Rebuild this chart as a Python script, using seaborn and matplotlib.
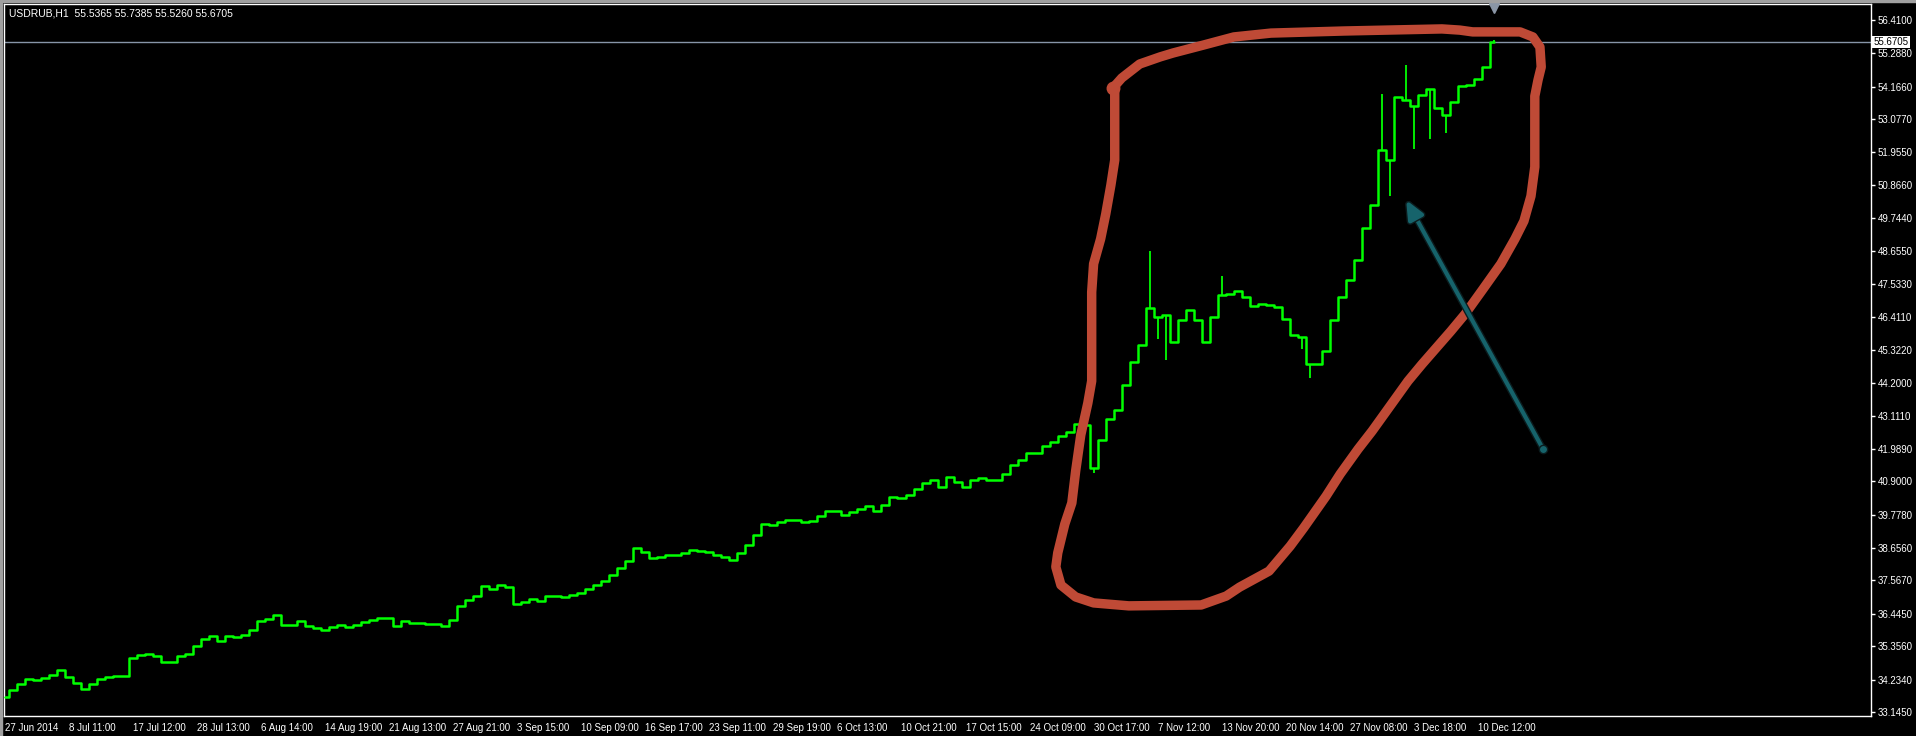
import numpy as np
import pandas as pd
import matplotlib
matplotlib.use("Agg")
import matplotlib.pyplot as plt
import matplotlib.patheffects as pe
import seaborn as sns

# USDRUB H1 closes, every 1/8 of a date-label step
close = [
    33.65, 33.88, 34.08, 34.25, 34.22, 34.28, 34.39, 34.55, 34.32, 34.12,
    33.91, 34.08, 34.25, 34.32, 34.35, 34.35, 34.96, 35.06, 35.09, 35.02,
    34.82, 34.82, 35.02, 35.09, 35.36, 35.60, 35.70, 35.53, 35.70, 35.66,
    35.73, 35.90, 36.20, 36.27, 36.40, 36.07, 36.07, 36.20, 36.03, 35.97,
    35.90, 36.00, 36.07, 36.00, 36.07, 36.17, 36.23, 36.30, 36.30, 36.03,
    36.20, 36.13, 36.13, 36.10, 36.10, 36.03, 36.23, 36.71, 36.91, 37.04,
    37.38, 37.28, 37.41, 37.34, 36.77, 36.84, 36.94, 36.87, 37.04, 37.04,
    37.01, 37.08, 37.14, 37.28, 37.41, 37.55, 37.75, 37.98, 38.22, 38.66,
    38.52, 38.32, 38.35, 38.42, 38.42, 38.49, 38.59, 38.56, 38.52, 38.42,
    38.35, 38.25, 38.49, 38.76, 39.09, 39.46, 39.43, 39.53, 39.60, 39.60,
    39.53, 39.56, 39.73, 39.90, 39.90, 39.77, 39.87, 39.97, 40.07, 39.90,
    40.10, 40.37, 40.34, 40.44, 40.64, 40.84, 40.94, 40.71, 41.04, 40.88,
    40.71, 40.94, 41.01, 40.94, 40.94, 41.14, 41.45, 41.61, 41.85, 41.85,
    42.09, 42.22, 42.42, 42.56, 42.83, 42.80, 41.35, 42.29, 42.99, 43.30,
    44.14, 44.91, 45.48, 46.73, 46.42, 46.49, 45.58, 46.32, 46.66, 46.32,
    45.58, 46.42, 47.16, 47.20, 47.30, 47.10, 46.79, 46.86, 46.83, 46.76,
    46.36, 45.82, 45.75, 44.84, 44.84, 45.28, 46.32, 47.10, 47.67, 48.34,
    49.42, 50.19, 52.04, 51.70, 53.82, 53.72, 53.52, 53.89, 54.09, 53.45,
    53.22, 53.65, 54.19, 54.22, 54.43, 54.83, 55.67,
]
samples_per_step = 8

# hourly highs / lows that stick out of the close line
spike_idx = [135, 136, 143, 144, 145, 152, 162, 163, 172, 173, 175, 176, 178, 180, 186]
spike_px = [43.56, 41.18, 48.64, 45.68, 44.98, 47.80, 45.35, 44.37, 53.92, 50.49,
            54.90, 52.07, 52.41, 52.61, 55.74]

date_labels = [
    "27 Jun 2014", "8 Jul 11:00", "17 Jul 12:00", "28 Jul 13:00", "6 Aug 14:00",
    "14 Aug 19:00", "21 Aug 13:00", "27 Aug 21:00", "3 Sep 15:00", "10 Sep 09:00",
    "16 Sep 17:00", "23 Sep 11:00", "29 Sep 19:00", "6 Oct 13:00", "10 Oct 21:00",
    "17 Oct 15:00", "24 Oct 09:00", "30 Oct 17:00", "7 Nov 12:00", "13 Nov 20:00",
    "20 Nov 14:00", "27 Nov 08:00", "3 Dec 18:00", "10 Dec 12:00",
]
price_ticks = [56.4100, 55.2880, 54.1660, 53.0770, 51.9550, 50.8660, 49.7440, 48.6550,
               47.5330, 46.4110, 45.3220, 44.2000, 43.1110, 41.9890, 40.9000, 39.7780,
               38.6560, 37.5670, 36.4450, 35.3560, 34.2340, 33.1450]
last_price = 55.6705
header = "USDRUB,H1  55.5365 55.7385 55.5260 55.6705"

# hand-drawn markings (x in date-label steps, y in price)
loop_x = [17.30, 17.44, 17.72, 18.04, 18.24, 18.72, 19.19, 19.77, 20.91, 22.44,
          22.72, 22.92, 23.66, 23.86, 23.97, 23.99, 23.94, 23.89, 23.89, 23.83,
          23.72, 23.58, 23.36, 23.08, 22.80, 22.58, 22.13, 21.91, 21.63, 21.35,
          21.13, 20.85, 20.63, 20.28, 20.07, 19.74, 19.28, 19.07, 18.68, 17.55,
          17.00, 16.72, 16.49, 16.41, 16.44, 16.55, 16.66, 16.72, 16.80, 16.91,
          16.97, 16.97, 17.00, 17.11, 17.19, 17.27, 17.33, 17.33, 17.30]
loop_y = [54.12, 54.46, 54.93, 55.17, 55.30, 55.57, 55.84, 55.97, 56.04, 56.11,
          56.07, 56.01, 56.01, 55.84, 55.50, 54.83, 54.39, 53.85, 51.47, 50.49,
          49.65, 49.05, 48.21, 47.36, 46.52, 45.95, 44.84, 44.27, 43.43, 42.59,
          41.98, 41.14, 40.40, 39.33, 38.72, 37.88, 37.34, 37.04, 36.74, 36.71,
          36.81, 37.01, 37.41, 38.02, 38.49, 39.46, 40.17, 41.25, 42.46, 43.53,
          44.27, 47.26, 48.21, 49.05, 49.89, 50.86, 51.70, 54.09, 54.12]
arrow_from = (24.02, 41.98)
arrow_to = (21.88, 50.36)

sns.set_style("dark")
plt.rcParams["font.family"] = ["Liberation Sans", "DejaVu Sans"]

W, H = 1916, 736
fig = plt.figure(figsize=(W / 100, H / 100), dpi=100, facecolor="black")
ax = fig.add_axes([4 / W, 20 / H, 1867 / W, 712 / H])
ax.set_facecolor("black")
ax.grid(False)

df = pd.DataFrame({"step": np.arange(len(close)) / samples_per_step, "close": close})
sns.lineplot(data=df, x="step", y="close", ax=ax, color="#00ff00", lw=1.8,
             drawstyle="steps-mid", zorder=3)

sx = np.array(spike_idx) / samples_per_step
base = np.array(close)[spike_idx]
ax.vlines(sx, np.minimum(base, spike_px), np.maximum(base, spike_px),
          color="#00ff00", lw=1.3, zorder=3)

ax.axhline(last_price, color="#8795a8", lw=1, zorder=2)

ax.set_xlim(-1 / 64, 29.14)
ax.set_ylim(33.007, 56.948)
ax.set_xlabel("")
ax.set_ylabel("")

ax.set_xticks(range(len(date_labels)))
ax.set_xticklabels(date_labels, ha="left")
ax.tick_params(axis="x", colors="white", length=4, width=1, pad=1, labelsize=7)

ax.yaxis.tick_right()
ax.set_yticks(price_ticks)
ax.set_yticklabels([f"{t:.4f}" for t in price_ticks])
ax.tick_params(axis="y", colors="white", length=3, width=1, pad=2, labelsize=7)

for s in ax.spines.values():
    s.set_visible(True)
    s.set_color("white")
    s.set_linewidth(1)

ax.text(1.0015, last_price, f"{last_price:.4f}", transform=ax.get_yaxis_transform(),
        ha="left", va="center", fontsize=7, color="black", clip_on=False, zorder=10,
        bbox=dict(boxstyle="square,pad=0.15", fc="white", ec="none"))

# chart shift marker above the last bar
ax.plot([(len(close) - 1) / samples_per_step], [1 - 4 / 712], transform=ax.get_xaxis_transform(),
        marker="v", ms=7, color="#8a96a6", clip_on=False, zorder=6)

# red freehand loop
red = "#bf4a36"
ax.plot(loop_x, loop_y, color=red, lw=6.8, solid_capstyle="round",
        solid_joinstyle="round", zorder=5)
ax.plot(loop_x[0], loop_y[0], "o", ms=9, color=red, zorder=5)

# teal arrow
teal = "#16636b"
ax.annotate("", xy=arrow_to, xytext=arrow_from,
            arrowprops=dict(arrowstyle="-|>,head_length=0.8,head_width=0.35", color=teal,
                            lw=3.0, shrinkA=0, shrinkB=0, mutation_scale=14,
                            path_effects=[pe.Stroke(linewidth=5, foreground="#0b1c1e"),
                                          pe.Normal()]),
            zorder=6)
ax.plot(*arrow_from, "o", ms=6, color=teal, mec="#0b1c1e", zorder=7)

# window border and header
fig.add_artist(plt.Rectangle((0, 1 - 2 / H), 1, 2 / H, transform=fig.transFigure,
                             color="#a0a0a0"))
fig.add_artist(plt.Rectangle((0, 0), 2 / W, 1, transform=fig.transFigure, color="#a0a0a0"))
fig.text(9 / W, 1 - 13 / H, header, color="white", fontsize=7.5, va="center", ha="left")

fig.savefig("out.png", dpi=100, facecolor="black")
